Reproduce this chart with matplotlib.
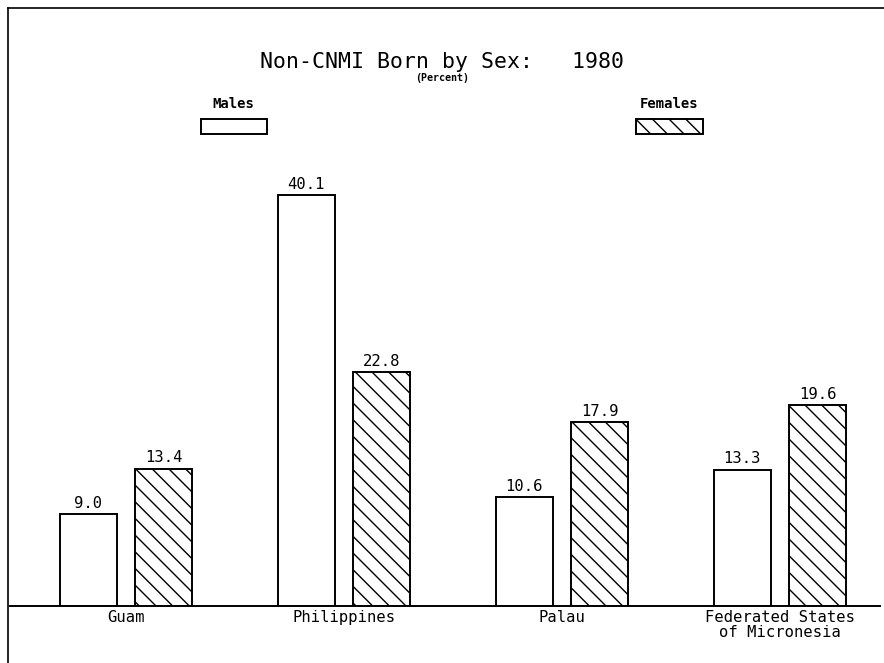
import numpy as np
import matplotlib
matplotlib.use("Agg")
import matplotlib.pyplot as plt
from matplotlib.lines import Line2D

# Non-CNMI born population by sex, 1980 (percent)
places = ["Guam", "Philippines", "Palau", "Federated States\nof Micronesia"]
males = [9.0, 40.1, 10.6, 13.3]
females = [13.4, 22.8, 17.9, 19.6]

plt.rcParams['font.family'] = ['DejaVu Sans Mono']
plt.rcParams['hatch.linewidth'] = 1.0

fig = plt.figure(figsize=(8.84, 6.63), dpi=100)
ax = fig.add_axes([0.0113, 0.086, 0.9842, 0.902])

x = np.arange(len(places))
w = 0.262
off = 0.173
lw = 1.4

bm = ax.bar(x - off, males, w, color="white", edgecolor="black", linewidth=lw)
bf = ax.bar(x + off, females, w, color="white", edgecolor="black", linewidth=lw,
            hatch="\\\\")

for bars, vals in ((bm, males), (bf, females)):
  for b, v in zip(bars, vals):
    ax.text(b.get_x() + b.get_width() / 2, v + 0.3, "%.1f" % v,
            ha="center", va="bottom", fontsize=11.2)

ax.set_xlim(-0.532, 3.459)
ax.set_ylim(0, 58.3)
ax.set_xticks(x)
ax.set_xticklabels(places, fontsize=11.2, linespacing=0.95)
ax.tick_params(axis="x", length=0, pad=3)
ax.set_yticks([])
for s in ["left", "right", "top"]:
  ax.spines[s].set_visible(False)
ax.spines["bottom"].set_linewidth(lw)

# page frame (left and top rules)
fig.add_artist(Line2D([0.009, 0.009], [0.0, 0.988], color="black", lw=1.2))
fig.add_artist(Line2D([0.009, 1.0], [0.988, 0.988], color="black", lw=1.2))

fig.text(0.5, 0.906, "Non-CNMI Born by Sex:   1980", ha="center", va="center",
         fontsize=15.5)
fig.text(0.5, 0.882, "(Percent)", ha="center", va="center", fontsize=7.2,
         fontweight="bold")

# legend boxes
fig.text(0.264, 0.843, "Males", ha="center", va="center", fontsize=10,
         fontweight="bold")
fig.text(0.757, 0.843, "Females", ha="center", va="center", fontsize=10,
         fontweight="bold")
lax = fig.add_axes([0.0, 0.0, 1.0, 1.0], facecolor="none")
lax.set_xlim(0, 1)
lax.set_ylim(0, 1)
lax.axis("off")
lax.add_patch(plt.Rectangle((0.227, 0.798), 0.075, 0.022, facecolor="white",
                            edgecolor="black", lw=lw))
lax.add_patch(plt.Rectangle((0.720, 0.798), 0.075, 0.022, facecolor="white",
                            edgecolor="black", lw=lw, hatch="\\\\"))

fig.savefig("out.png", dpi=100)
